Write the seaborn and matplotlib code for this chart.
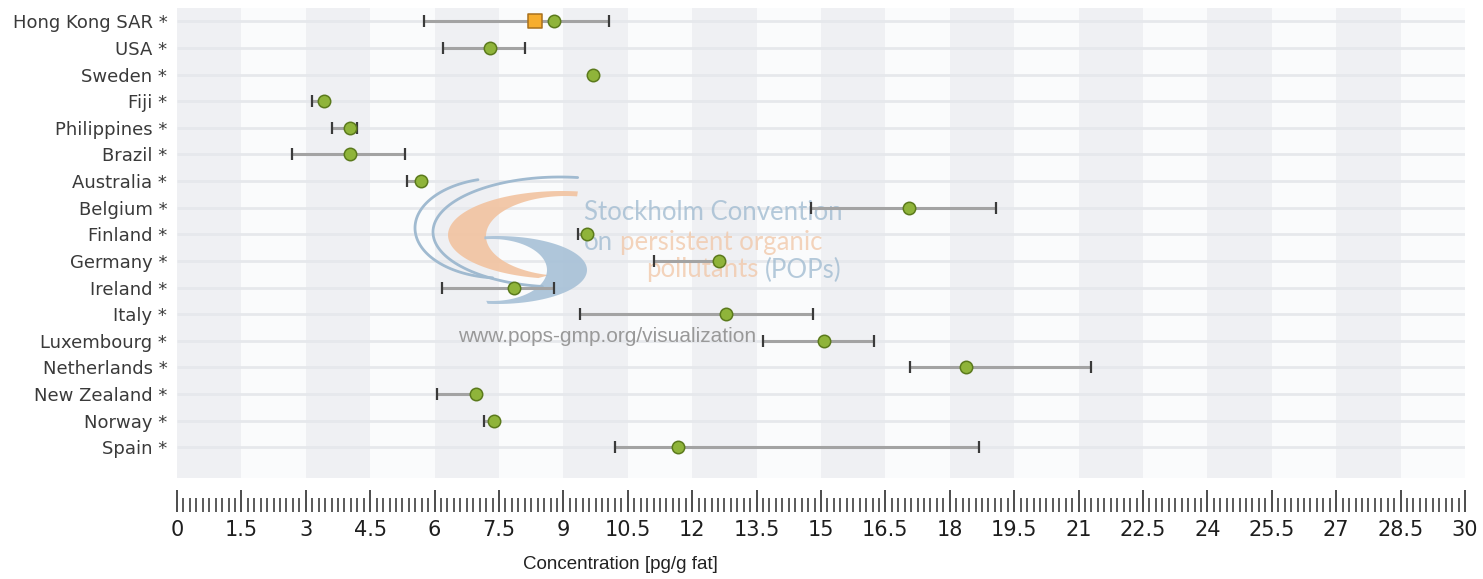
import numpy as np
import pandas as pd
import matplotlib
matplotlib.use("Agg")
import matplotlib.pyplot as plt
import seaborn as sns
from matplotlib.patches import Polygon
from matplotlib.ticker import FixedLocator

# Concentrations in pg/g fat: median with min/max range per country
countries = ["Hong Kong SAR", "USA", "Sweden", "Fiji", "Philippines", "Brazil",
             "Australia", "Belgium", "Finland", "Germany", "Ireland", "Italy",
             "Luxembourg", "Netherlands", "New Zealand", "Norway", "Spain"]
median = [8.79, 7.29, 9.70, 3.42, 4.03, 4.03, 5.68, 17.04, 9.56, 12.63, 7.84,
          12.78, 15.08, 18.38, 6.96, 7.38, 11.67]
lower = [5.76, 6.19, np.nan, 3.14, 3.62, 2.69, 5.35, 14.76, 9.35, 11.12, 6.17,
         9.38, 13.66, 17.08, 6.05, 7.14, 10.20]
upper = [10.07, 8.11, np.nan, np.nan, 4.20, 5.31, np.nan, 19.08, np.nan, np.nan,
         8.79, 14.81, 16.24, 21.30, np.nan, np.nan, 18.67]
highlight_country = ["Hong Kong SAR"]
highlight_value = [8.34]

labels = [f"{c} *" for c in countries]
df = pd.DataFrame({"label": labels, "median": median, "lower": lower, "upper": upper})

W, H = 1483, 579
sns.set_style("white")
plt.rcParams["font.family"] = ["DejaVu Sans"]
fig = plt.figure(figsize=(W / 100, H / 100), dpi=100)
ax = fig.add_axes([177 / W, 1 - 478 / H, (1465 - 177) / W, (478 - 8) / H])
ax.set_facecolor("#fafbfc")

# alternating vertical bands every 1.5 units
for i in range(0, 20, 2):
    ax.axvspan(1.5 * i, 1.5 * (i + 1), color="#eff0f3", lw=0, zorder=0)

n = len(countries)
idx = np.arange(n)
ax.hlines(idx, 0, 30, color="#e6e8ec", lw=2.0, zorder=1)


def px(x, y):
    return (x / W, 1 - y / H)


def ellipse_pts(cx, cy, rx, ry, t0, t1, num=80):
    t = np.radians(np.linspace(t0, t1, num))
    return [px(cx + rx * np.cos(a), cy - ry * np.sin(a)) for a in t]


# watermark logo
orange_pts = ellipse_pts(562, 235, 114, 44, 82, 258) + ellipse_pts(566, 236, 80, 40, 258, 82)
blue_pts = ellipse_pts(497, 270, 90, 34, 98, -96) + ellipse_pts(492, 270, 55, 31, -96, 98)
ax.add_patch(Polygon(orange_pts, closed=True, transform=fig.transFigure, facecolor="#f2c3a0",
                     edgecolor="none", alpha=0.9, zorder=2, clip_on=False))
ax.add_patch(Polygon(blue_pts, closed=True, transform=fig.transFigure, facecolor="#a7c1d7",
                     edgecolor="none", alpha=0.9, zorder=2, clip_on=False))
for (cx, cy, rx, ry, t0, t1) in [(500, 228, 85, 50, 105, 265), (560, 232, 127, 55, 82, 262)]:
    pts = np.array(ellipse_pts(cx, cy, rx, ry, t0, t1))
    ax.plot(pts[:, 0], pts[:, 1], transform=fig.transFigure, color="#a0bad0", lw=2,
            zorder=2, clip_on=False)

wm = dict(family=["Lato", "DejaVu Sans"], fontweight="normal", fontsize=18.5, zorder=2,
          transform=fig.transFigure, va="center", alpha=0.75)
blue_txt, orange_txt = "#9db9cf", "#f1c6a6"
ax.text(*px(584, 213), "Stockholm Convention", color=blue_txt, ha="left", **wm)
ax.text(*px(584, 242), "on", color=blue_txt, ha="left", **wm)
ax.text(*px(620, 242), "persistent organic", color=orange_txt, ha="left", **wm)
ax.text(*px(759, 270), "pollutants", color=orange_txt, ha="right", **wm)
ax.text(*px(842, 270), "(POPs)", color=blue_txt, ha="right", **wm)
ax.text(*px(458, 337), "www.pops-gmp.org/visualization", color="#999999", ha="left",
        va="center", fontsize=15, family=["Liberation Sans", "DejaVu Sans"],
        transform=fig.transFigure, zorder=2)

# range whiskers
lo = df["lower"].fillna(df["median"])
hi = df["upper"].fillna(df["median"])
ax.hlines(idx, lo, hi, color="#a3a3a3", lw=2.2, zorder=3)
for col in ["lower", "upper"]:
    m = df[col].notna()
    ax.plot(df.loc[m, col], idx[m], ls="none", marker="|", ms=8, mew=1.6,
            color="#3a3a3a", zorder=4)

# medians
sns.scatterplot(data=df, x="median", y=idx, ax=ax, s=80, color="#8fb43a",
                edgecolor="#5b7a1c", linewidth=1.1, zorder=6, legend=False)
hy = [countries.index(c) for c in highlight_country]
ax.scatter(highlight_value, hy, marker="s", s=105, color="#f6ad2e", edgecolor="#a8701d",
           linewidth=1.1, zorder=5)

ax.set_xlim(0, 30)
ax.set_ylim(17.15, -0.5)
ax.set_yticks(idx)
ax.set_yticklabels(labels)
ax.set_ylabel("")

narrow = ["Liberation Sans", "DejaVu Sans"]
majors = np.round(np.arange(0, 30.001, 1.5), 2)
ax.set_xticks(majors)
ax.set_xticklabels([f"{v:g}" for v in majors], family=narrow)
ax.xaxis.set_minor_locator(FixedLocator(np.round(np.arange(0, 30.001, 0.15), 3)))

for s in ax.spines.values():
    s.set_visible(False)
ax.spines["bottom"].set_position(("outward", 24.5))

ax.tick_params(axis="x", which="both", bottom=True, top=False)
ax.tick_params(axis="x", which="major", direction="in", length=15.5, width=1.2,
               color="#2e2e2e", labelsize=15, labelcolor="#1e1e1e", pad=6)
ax.tick_params(axis="x", which="minor", direction="in", length=10, width=1.1,
               color="#2e2e2e")
ax.tick_params(axis="y", left=False, length=0, pad=7, labelsize=13, labelcolor="#3a3a3a")

ax.set_xlabel("Concentration [pg/g fat]", fontsize=13.5, family=narrow, color="#222222")
ax.xaxis.set_label_coords((620 - 177) / 1288, -0.165)
ax.xaxis.label.set_va("top")

fig.savefig("out.png", dpi=100, facecolor="white")
